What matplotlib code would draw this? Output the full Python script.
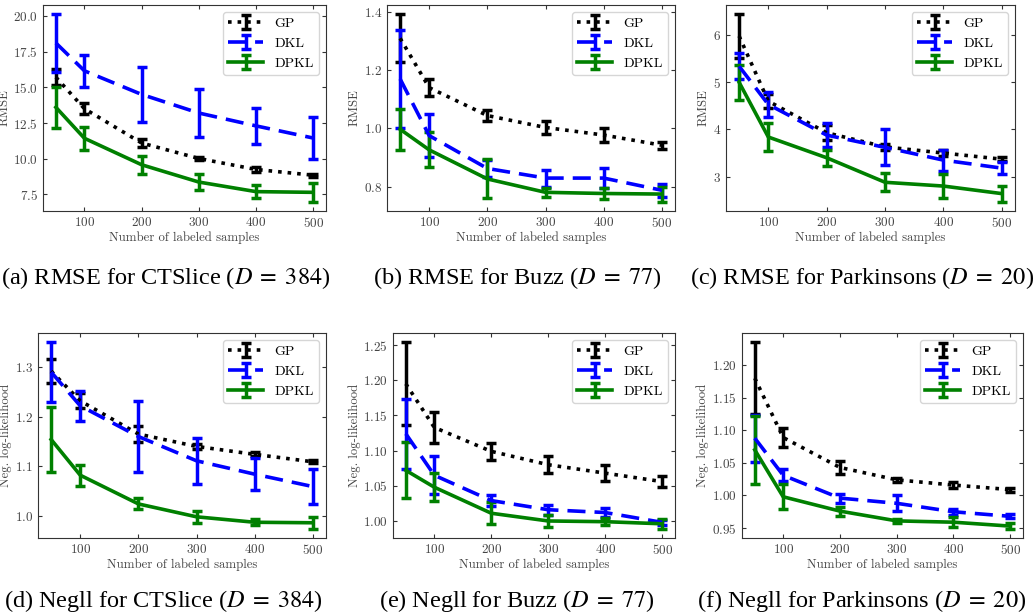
import matplotlib
matplotlib.use("Agg")
import matplotlib.pyplot as plt

plt.rcParams["font.family"] = "cmr10"
plt.rcParams["axes.formatter.use_mathtext"] = True
plt.rcParams["mathtext.fontset"] = "stix"

# Number of labeled samples
ns = [50, 100, 200, 300, 400, 500]

# (a) RMSE for CTSlice
rmse_ct_gp = [15.7, 13.5, 11.1, 10.02, 9.25, 8.85]
rmse_ct_gp_err = [0.55, 0.4, 0.25, 0.1, 0.2, 0.1]
rmse_ct_dkl = [18.1, 16.15, 14.5, 13.2, 12.3, 11.45]
rmse_ct_dkl_err = [2.0, 1.1, 1.95, 1.7, 1.25, 1.45]
rmse_ct_dpkl = [13.6, 11.43, 9.58, 8.37, 7.7, 7.65]
rmse_ct_dpkl_err = [1.45, 0.82, 0.62, 0.59, 0.44, 0.65]

# (b) RMSE for Buzz
rmse_buzz_gp = [1.31, 1.14, 1.044, 1.003, 0.977, 0.942]
rmse_buzz_gp_err = [0.082, 0.03, 0.018, 0.021, 0.023, 0.012]
rmse_buzz_dkl = [1.17, 0.975, 0.862, 0.829, 0.829, 0.787]
rmse_buzz_dkl_err = [0.168, 0.075, 0.03, 0.029, 0.035, 0.022]
rmse_buzz_dpkl = [0.997, 0.926, 0.826, 0.78, 0.776, 0.774]
rmse_buzz_dpkl_err = [0.07, 0.06, 0.067, 0.015, 0.018, 0.026]

# (c) RMSE for Parkinsons
rmse_pk_gp = [5.98, 4.6, 3.93, 3.63, 3.5, 3.37]
rmse_pk_gp_err = [0.46, 0.15, 0.16, 0.07, 0.07, 0.04]
rmse_pk_dkl = [5.34, 4.53, 3.88, 3.62, 3.35, 3.18]
rmse_pk_dkl_err = [0.28, 0.26, 0.25, 0.38, 0.22, 0.12]
rmse_pk_dpkl = [5.0, 3.84, 3.4, 2.88, 2.8, 2.64]
rmse_pk_dpkl_err = [0.37, 0.29, 0.17, 0.19, 0.26, 0.17]

# (d) Negll for CTSlice
nll_ct_gp = [1.292, 1.232, 1.165, 1.14, 1.124, 1.109]
nll_ct_gp_err = [0.024, 0.015, 0.017, 0.005, 0.004, 0.003]
nll_ct_dkl = [1.29, 1.222, 1.16, 1.111, 1.084, 1.059]
nll_ct_dkl_err = [0.06, 0.03, 0.072, 0.047, 0.032, 0.035]
nll_ct_dpkl = [1.154, 1.082, 1.024, 0.998, 0.987, 0.986]
nll_ct_dpkl_err = [0.065, 0.021, 0.011, 0.012, 0.006, 0.012]

# (e) Negll for Buzz
nll_buzz_gp = [1.195, 1.133, 1.099, 1.08, 1.068, 1.056]
nll_buzz_gp_err = [0.059, 0.022, 0.012, 0.012, 0.011, 0.008]
nll_buzz_dkl = [1.124, 1.065, 1.029, 1.016, 1.012, 0.998]
nll_buzz_dkl_err = [0.05, 0.027, 0.008, 0.007, 0.006, 0.004]
nll_buzz_dpkl = [1.072, 1.048, 1.011, 1.0, 0.999, 0.996]
nll_buzz_dpkl_err = [0.04, 0.02, 0.016, 0.008, 0.005, 0.007]

# (f) Negll for Parkinsons
nll_pk_gp = [1.18, 1.089, 1.043, 1.024, 1.016, 1.009]
nll_pk_gp_err = [0.055, 0.015, 0.01, 0.003, 0.004, 0.003]
nll_pk_dkl = [1.088, 1.031, 0.996, 0.988, 0.975, 0.968]
nll_pk_dkl_err = [0.036, 0.009, 0.007, 0.012, 0.005, 0.003]
nll_pk_dpkl = [1.07, 0.998, 0.976, 0.961, 0.959, 0.953]
nll_pk_dpkl_err = [0.052, 0.019, 0.007, 0.003, 0.008, 0.004]

panels = [
    ([0.0416, 0.6558, 0.2737, 0.336], "RMSE",
     rmse_ct_gp, rmse_ct_gp_err, rmse_ct_dkl, rmse_ct_dkl_err, rmse_ct_dpkl, rmse_ct_dpkl_err,
     r"(a) RMSE for CTSlice ($D\;=\;384$)", 166, 278),
    ([0.3743, 0.6558, 0.2785, 0.336], "RMSE",
     rmse_buzz_gp, rmse_buzz_gp_err, rmse_buzz_dkl, rmse_buzz_dkl_err, rmse_buzz_dpkl, rmse_buzz_dpkl_err,
     r"(b) RMSE for Buzz ($D\;=\;77$)", 517, 278),
    ([0.7021, 0.6558, 0.2795, 0.336], "RMSE",
     rmse_pk_gp, rmse_pk_gp_err, rmse_pk_dkl, rmse_pk_dkl_err, rmse_pk_dpkl, rmse_pk_dpkl_err,
     r"(c) RMSE for Parkinsons ($D\;=\;20$)", 862, 278),
    ([0.0368, 0.1223, 0.2785, 0.3344], "Neg. log-likelihood",
     nll_ct_gp, nll_ct_gp_err, nll_ct_dkl, nll_ct_dkl_err, nll_ct_dpkl, nll_ct_dpkl_err,
     r"(d) Negll for CTSlice ($D\;=\;384$)", 163, 601),
    ([0.3801, 0.1223, 0.2727, 0.3344], "Neg. log-likelihood",
     nll_buzz_gp, nll_buzz_gp_err, nll_buzz_dkl, nll_buzz_dkl_err, nll_buzz_dpkl, nll_buzz_dpkl_err,
     r"(e) Negll for Buzz ($D\;=\;77$)", 517, 601),
    ([0.7176, 0.1223, 0.2718, 0.3344], "Neg. log-likelihood",
     nll_pk_gp, nll_pk_gp_err, nll_pk_dkl, nll_pk_dkl_err, nll_pk_dpkl, nll_pk_dpkl_err,
     r"(f) Negll for Parkinsons ($D\;=\;20$)", 862, 601),
]

fig = plt.figure(figsize=(10.34, 6.13), dpi=100)

for (rect, ylab, gp, gpe, dkl, dkle, dpkl, dpkle, cap, cx, cy) in panels:
    ax = fig.add_axes(rect)
    ax.errorbar(ns, gp, yerr=gpe, color="black", linestyle=":", lw=2.6,
                elinewidth=2.5, capsize=3.5, capthick=2.5, label="GP")
    ax.errorbar(ns, dkl, yerr=dkle, color="#0000ff", linestyle=(0, (5, 2.5)), lw=2.6,
                elinewidth=2.5, capsize=3.5, capthick=2.5, label="DKL")
    ax.errorbar(ns, dpkl, yerr=dpkle, color="#008000", linestyle="-", lw=2.6,
                elinewidth=2.5, capsize=3.5, capthick=2.5, label="DPKL")
    ax.set_xticks([100, 200, 300, 400, 500])
    ax.tick_params(direction="in", top=True, right=True, labelsize=9.5,
                   labelcolor="#444444", length=3, color="#333333")
    for s in ax.spines.values():
        s.set_color("#333333")
    ax.set_xlabel("Number of labeled samples", fontsize=9.2, color="#444444", labelpad=1)
    ax.set_ylabel(ylab, fontsize=9.2, color="#444444", labelpad=2)
    leg = ax.legend(loc="upper right", fontsize=10, handlelength=2.5, framealpha=0.8)
    leg.get_frame().set_edgecolor("#cccccc")
    fig.text(cx / 1034, 1 - cy / 613, cap, ha="center", va="center",
             fontsize=17.5, family="Liberation Serif")

fig.savefig("out.png", dpi=100)
